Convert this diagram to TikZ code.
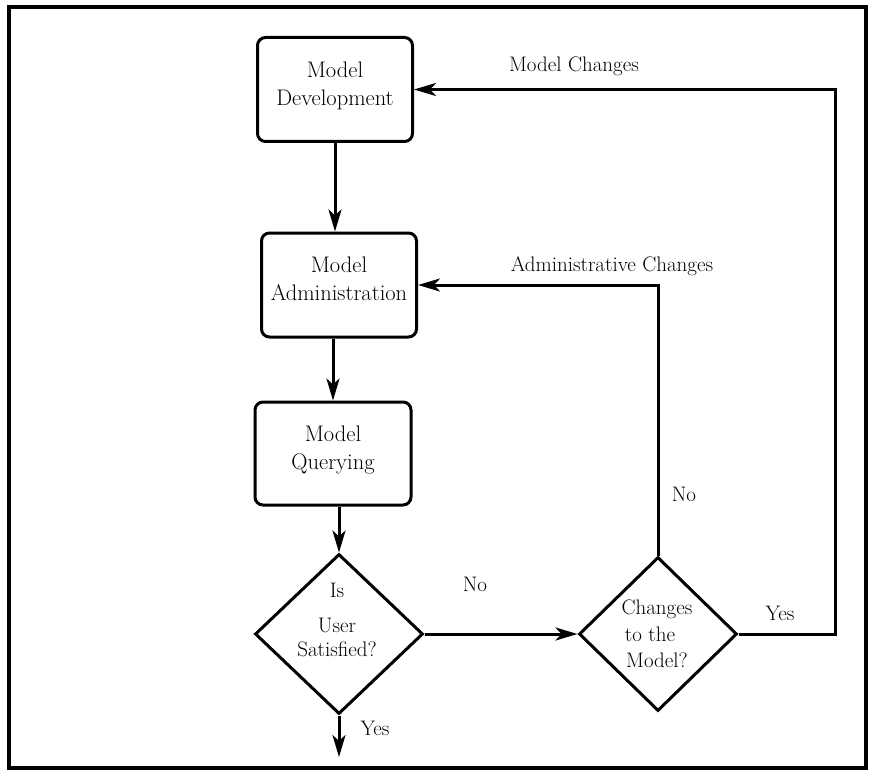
\documentclass[tikz,border=0pt]{standalone}
\usetikzlibrary{shapes.geometric,arrows.meta}
\begin{document}
\begin{tikzpicture}[x=1pt,y=-1pt,
  every node/.style={inner sep=0pt},
  box/.style={draw, rounded corners=8pt, line width=3pt, minimum width=155pt, minimum height=104pt},
  boxtext/.style={align=center, font=\rmfamily\fontsize{22.5}{28}\selectfont},
  dec/.style={draw, diamond, line width=3pt, inner sep=0pt},
  dectext/.style={align=center},
  lbl/.style={font=\rmfamily\fontsize{21}{26}\selectfont},
  arr/.style={line width=3pt, -{Stealth[length=22pt,width=13pt,inset=6pt]}}
]
\useasboundingbox (0,0) rectangle (870,773);
\draw[line width=3.5pt] (9,7) rectangle (866,768);

% boxes
\node[box] (dev) at (335,89.5) {};
\node[boxtext] (devt) at (335,85.5) {Model\\Development};
\node[box] (admin) at (339,285) {};
\node[boxtext] (admint) at (339,279) {Model\\Administration};
\node[box, minimum width=156pt, minimum height=103pt] (query) at (333,453.5) {};
\node[boxtext] (queryt) at (333,450) {Model\\Querying};

% decisions
\node[dec, minimum width=168pt, minimum height=160pt] (d1) at (339,634) {};
\node[dectext, font=\rmfamily\fontsize{21}{28}\selectfont] (d1t) at (337,620) {Is\\[7pt]User\\[-4pt]Satisfied?};
\node[dec, minimum width=158pt, minimum height=154pt] (d2) at (658,634) {};
\node[dectext, font=\rmfamily\fontsize{21}{26.5}\selectfont] (d2t) at (657,634) {Changes\\\mbox{to the\kern14pt}\\Model?};

% free ends / corners
\coordinate (yesend) at (339,757);
\coordinate (mc) at (835,89.5);

% connectors
\draw[arr] (dev.south) -- (dev.south |- admin.north);
\draw[arr] (query.north |- admin.south) -- (query.north);
\draw[arr] (d1.north |- query.south) -- (d1.north);
\draw[arr] (d1.south) -- (yesend);
\draw[arr] (d1.east) -- (d2.west);
\draw[arr] (d2.north) -- (d2.north |- admin.east) -- (admin.east);
\draw[arr] (d2.east) -| (mc) |- (dev.east);

% labels
\node[lbl] (lmc) at (574,66) {Model Changes};
\node[lbl] (lac) at (612,266) {Administrative Changes};
\node[lbl] (lno1) at (684,494.5) {No};
\node[lbl] (lno2) at (475,584.5) {No};
\node[lbl] (lyes1) at (780,613) {Yes};
\node[lbl] (lyes2) at (375,728) {Yes};
\end{tikzpicture}
\end{document}
